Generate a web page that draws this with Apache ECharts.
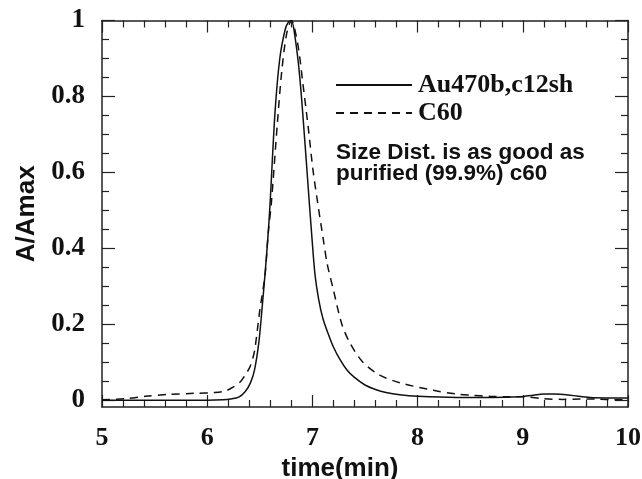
<!DOCTYPE html>
<html><head><meta charset="utf-8">
<script src="https://cdn.jsdelivr.net/npm/echarts@6/dist/echarts.min.js"></script>
<style>html,body{margin:0;padding:0;background:#fff}#c{width:642px;height:479px}</style>
</head><body><div id="c"></div>
<script>
const auTime = [5.0,5.5,6.0,6.15,6.22,6.3,6.36,6.41,6.45,6.49,6.52,6.55,6.58,6.6,6.645,6.69,6.74,6.77,6.8,6.835,6.88,6.93,6.96,6.995,7.025,7.06,7.1,7.15,7.2,7.26,7.33,7.4,7.5,7.6,7.7,7.83,8.0,8.37,8.7,8.97,9.1,9.2,9.3,9.45,9.64,9.8,10.0];
const auValue = [0,0,0,0.001,0.003,0.008,0.022,0.045,0.08,0.15,0.237,0.333,0.44,0.53,0.76,0.9,0.975,0.995,1.0,0.956,0.851,0.675,0.56,0.43,0.33,0.265,0.215,0.175,0.14,0.108,0.079,0.06,0.04,0.028,0.02,0.014,0.01,0.007,0.007,0.009,0.013,0.016,0.016,0.013,0.007,0.006,0.006];
const c60Time = [5.0,5.22,5.41,5.63,5.88,6.07,6.17,6.25,6.32,6.37,6.41,6.45,6.5,6.55,6.58,6.61,6.67,6.71,6.755,6.8,6.86,6.91,6.96,7.006,7.05,7.1,7.14,7.2,7.28,7.36,7.48,7.64,7.83,8.15,8.37,8.5,8.69,8.85,9.0,9.19,9.38,9.54,9.7,9.87,10.0];
const c60Value = [0.001,0.004,0.01,0.015,0.018,0.02,0.024,0.035,0.05,0.07,0.09,0.13,0.237,0.33,0.44,0.52,0.74,0.87,0.965,1.0,0.939,0.833,0.719,0.605,0.52,0.43,0.36,0.29,0.2,0.149,0.1,0.066,0.046,0.026,0.016,0.013,0.01,0.009,0.009,0.004,0.002,0.003,0.003,0.001,0.001];
const yMajorTicks = [0,0.2,0.4,0.6,0.8,1];
const yMinorTicks = [0.05,0.1,0.15,0.25,0.3,0.35,0.45,0.5,0.55,0.65,0.7,0.75,0.85,0.9,0.95];
const seriesNames = ['Au470b,c12sh','C60'];
const noteLines = ['Size Dist. is as good as','purified (99.9%) c60'];

const frame = '#222';
const serifBold = {fontFamily:'"Liberation Serif","Times New Roman",serif',fontWeight:'bold',fontSize:26,color:'#111'};
const sansBold = {fontFamily:'"Liberation Sans",Arial,sans-serif',fontWeight:'bold',fontSize:26,color:'#111'};
const Y_MIN = -0.018;

function yAxisDef(pos, vals, len, labels, line){
  return {type:'value',position:pos,min:Y_MIN,max:1,
    axisLine:{show:line,lineStyle:{color:frame,width:1.5}},
    axisTick:{show:true,inside:true,length:len,customValues:vals,lineStyle:{color:frame,width:1.2}},
    axisLabel:labels?{show:true,customValues:yMajorTicks,margin:17,...serifBold,fontSize:27}:{show:false},
    splitLine:{show:false},
    name: (labels && pos==='left') ? 'A/Amax' : '',
    nameLocation:'middle',nameGap:62,nameRotate:90,nameTextStyle:sansBold};
}
function xAxisDef(pos, labels){
  return {type:'value',position:pos,min:5,max:10,interval:1,
    axisLine:{show:true,onZero:false,lineStyle:{color:frame,width:1.5}},
    axisTick:{show:true,inside:true,length:12,lineStyle:{color:frame,width:1.2}},
    minorTick:{show:true,splitNumber:5,length:7,lineStyle:{color:frame,width:1.2}},
    axisLabel:labels?{show:true,margin:18,...serifBold}:{show:false},
    splitLine:{show:false},
    name: labels ? 'time(min)' : '',
    nameLocation:'middle',nameGap:45,
    nameTextStyle:{...sansBold,padding:[0,50,0,0]}};
}

const chart = echarts.init(document.getElementById('c'));
chart.setOption({
  backgroundColor:'#fff',
  animation:false,
  color:['#111','#111'],
  grid:{left:102,right:14,top:20.5,bottom:72,outerBoundsMode:'none',containLabel:false},
  xAxis:[xAxisDef('bottom',true), xAxisDef('top',false)],
  yAxis:[yAxisDef('left',yMajorTicks,13,true,true), yAxisDef('left',yMinorTicks,7,false,false),
         yAxisDef('right',yMajorTicks,13,false,true), yAxisDef('right',yMinorTicks,7,false,false)],
  legend:{orient:'vertical',left:330,top:67,itemWidth:76,itemHeight:14,itemGap:2,
    data:seriesNames,
    itemStyle:{opacity:0},
    textStyle:{...serifBold,padding:[0,0,0,1]}},
  graphic:[{type:'text',left:336,top:141,
    style:{text:noteLines.join('\n'),font:'bold 22.5px "Liberation Sans", Arial, sans-serif',lineHeight:21,fill:'#111'}}],
  series:[
    {name:seriesNames[0],type:'line',xAxisIndex:0,yAxisIndex:0,showSymbol:false,symbol:'none',smooth:0.3,
     lineStyle:{color:'#111',width:1.5,type:'solid'},
     data:auTime.map((t,i)=>[t,auValue[i]])},
    {name:seriesNames[1],type:'line',xAxisIndex:0,yAxisIndex:0,showSymbol:false,symbol:'none',smooth:0.3,
     lineStyle:{color:'#111',width:1.5,type:[8,6]},
     data:c60Time.map((t,i)=>[t,c60Value[i]])}
  ]
});
</script></body></html>
